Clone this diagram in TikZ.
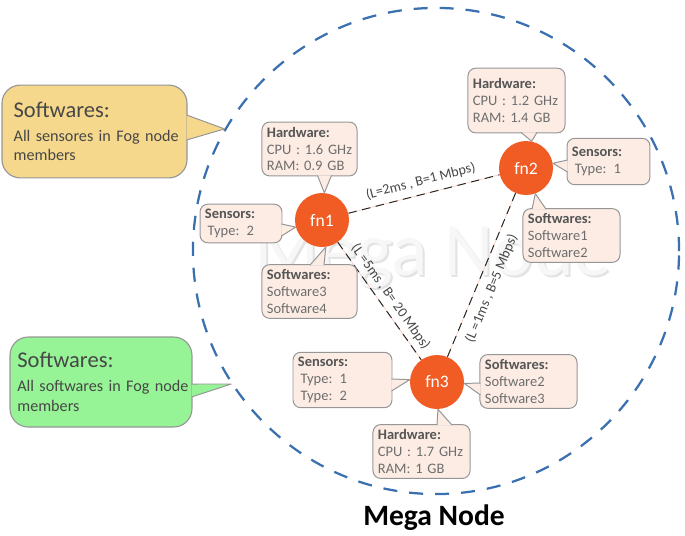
\documentclass[tikz,border=0pt]{standalone}
\usepackage{fontspec}
\setmainfont{Carlito}

\definecolor{fnorange}{RGB}{240,92,36}
\definecolor{boxfill}{RGB}{252,236,228}
\definecolor{boxline}{RGB}{150,150,150}
\definecolor{headgray}{RGB}{85,85,85}
\definecolor{bodygray}{RGB}{110,110,110}
\definecolor{megablue}{RGB}{58,112,176}
\definecolor{noteyellow}{RGB}{245,216,140}
\definecolor{notegreen}{RGB}{150,244,150}
\definecolor{linkgray}{RGB}{70,70,70}

\newcommand{\boxhead}[1]{\textbf{\color{headgray}#1}}
% pointer of a callout: base point, tip, base point
\newcommand{\calltip}[4][boxfill]{%
  \fill[#1] #2 -- #3 -- #4 -- cycle;
  \draw[tipline] #2 -- #3 -- #4;}

\tikzset{
  fog/.style={circle, fill=fnorange, text=white, minimum size=1.35cm, inner sep=0pt,
    font=\fontsize{12.5}{14}\selectfont},
  infobox/.style={draw=boxline, fill=boxfill, line width=0.7pt, rounded corners=5.5pt,
    align=left, inner xsep=3.5pt, inner ysep=3.5pt, text width=#1, text=bodygray,
    font=\fontsize{10.3}{12}\selectfont},
  tipline/.style={draw=boxline, line width=0.7pt, line join=round},
  note/.style={draw=boxline, line width=0.8pt, rounded corners=13pt, align=left,
    text=black!72, font=\fontsize{11.5}{14}\selectfont},
  megacircle/.style={circle, draw=megablue, line width=1.6pt, dash pattern=on 10pt off 8.5pt,
    minimum size=12.15cm, inner sep=0pt},
  linkbase/.style={draw=fnorange!30, line width=0.5pt},
  link/.style={draw=black!85, line width=0.7pt, dash pattern=on 6pt off 4pt},
  linklabel/.style={text=linkgray, inner sep=1.5pt, font=\fontsize{10}{12}\selectfont},
  watermark/.style={anchor=base, inner sep=0pt, font=\fontsize{54}{60}\selectfont},
}

\begin{document}
\begin{tikzpicture}[x=0.025cm, y=-0.025cm]
  \useasboundingbox (0,0) rectangle (685,535);

  % background text
  \node[watermark, text=black!11] (wmshade) at (435,277) {Mega Node};
  \node[watermark, text=black!3] (wm) at (433,275) {Mega Node};

  \node[megacircle] (mega) at (436,251) {};

  % fog nodes
  \node[fog] (fn1) at (322,220) {fn1};
  \node[fog] (fn2) at (526,168) {fn2};
  \node[fog] (fn3) at (437,382) {fn3};

  % links
  \draw[linkbase] (fn1) -- (fn2);
  \draw[linkbase] (fn1) -- (fn3);
  \draw[linkbase] (fn2) -- (fn3);
  \draw[link] (fn1) -- node[linklabel, sloped, above=3pt] {(L=2ms , B=1 Mbps)} (fn2);
  \draw[link] (fn1) -- node[linklabel, sloped, above=2pt, pos=0.52] {(L =5ms , B= 20 Mbps)} (fn3);
  \draw[link] (fn2) -- node[linklabel, sloped, below=4pt, pos=0.55] {(L =1ms , B=5 Mbps)} (fn3);

  % fn1
  \node[infobox=60.6pt] (hw1) at (309.5,149) {\boxhead{Hardware:}\\CPU : 1.6 GHz\\RAM: 0.9 GB};
  \node[infobox=51.3pt] (se1) at (241,223.5) {\boxhead{Sensors:}\\\hspace*{2pt}Type: 2};
  \node[infobox=60.6pt] (sw1) at (309.5,291.5) {\boxhead{Softwares:}\\Software3\\Software4};
  \calltip{([shift={(8,-1)}]hw1.south)}{(fn1.85)}{([shift={(22,-1)}]hw1.south)}
  \calltip{([shift={(-1,0.5)}]se1.east)}{(fn1.195)}{([shift={(-1,12.5)}]se1.east)}
  \calltip{([shift={(0.5,1)}]sw1.north)}{(fn1.-82)}{([shift={(14.5,1)}]sw1.north)}

  % fn2
  \node[infobox=62pt, minimum height=46pt] (hw2) at (516.5,100.5) {\boxhead{Hardware:}\\CPU : 1.2 GHz\\RAM: 1.4 GB};
  \node[infobox=52pt, minimum height=33pt] (se2) at (608.5,161.5) {\boxhead{Sensors:}\\\hspace*{2pt}Type: 1};
  \node[infobox=62pt] (sw2) at (571.5,235.5) {\boxhead{Softwares:}\\Software1\\Software2};
  \calltip{([shift={(4.5,-1)}]hw2.south)}{(fn2.78)}{([shift={(20.5,-1)}]hw2.south)}
  \calltip{([shift={(1,-1.5)}]se2.west)}{(fn2.10)}{([shift={(1,10.5)}]se2.west)}
  \calltip{([shift={(-39.5,1)}]sw2.north)}{(fn2.-70)}{([shift={(-25.5,1)}]sw2.north)}

  % fn3
  \node[infobox=63.4pt] (se3) at (342.5,380) {\boxhead{Sensors:}\\\hspace*{2pt}Type: 1\\\hspace*{2pt}Type: 2};
  \node[infobox=62pt] (sw3) at (528.5,381.5) {\boxhead{Softwares:}\\Software2\\Software3};
  \node[infobox=62pt] (hw3) at (421.5,451.5) {\boxhead{Hardware:}\\CPU : 1.7 GHz\\RAM: 1 GB};
  \calltip{([shift={(-1,-1)}]se3.east)}{(fn3.175)}{([shift={(-1,11)}]se3.east)}
  \calltip{([shift={(1,1.5)}]sw3.west)}{(fn3.-3)}{([shift={(1,13.5)}]sw3.west)}
  \calltip{([shift={(15.5,1)}]hw3.north)}{(fn3.-88)}{([shift={(30.5,1)}]hw3.north)}

  % notes on the left
  \node[note, fill=noteyellow, text width=115pt, inner xsep=8.3pt, minimum height=66pt] (sensnote) at (94.5,131.5)
    {{\fontsize{16}{18}\selectfont Softwares:}\\[3pt]\mbox{All sensores in Fog node}\\members};
  \node[note, fill=notegreen, text width=119pt, inner xsep=5.2pt, minimum height=64pt] (softnote) at (101,382)
    {{\fontsize{16}{18}\selectfont Softwares:}\\[3pt]\mbox{All softwares in Fog node}\\members};
  \calltip[noteyellow]{([shift={(-1,-16.5)}]sensnote.east)}{(mega.150)}{([shift={(-1,8.5)}]sensnote.east)}
  \calltip[notegreen]{([shift={(-1,2)}]softnote.east)}{(mega.213)}{([shift={(-1,15)}]softnote.east)}

  \node[anchor=base, font=\bfseries\fontsize{21}{24}\selectfont] (title) at (434,525) {Mega Node};
\end{tikzpicture}
\end{document}
